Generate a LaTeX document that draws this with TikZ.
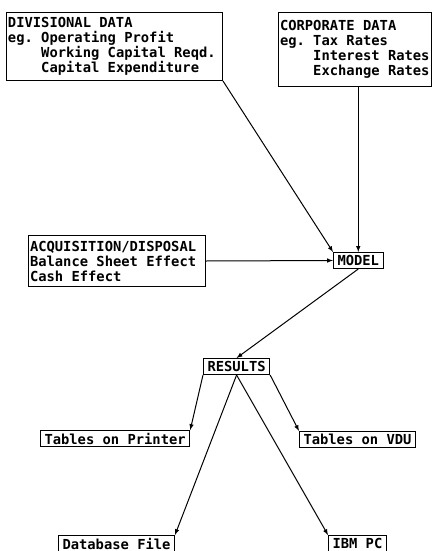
\documentclass[tikz,border=0pt]{standalone}
\usepackage{fontspec}
\setmonofont{DejaVu Sans Mono}
\usepackage{tikz}
\newcommand{\egpad}{\phantom{eg.}\ }

\begin{document}
\begin{tikzpicture}[x=1pt, y=-1pt, >=latex, line width=1pt,
    every node/.style={font=\ttfamily\bfseries\fontsize{13.8}{15}\selectfont},
    databox/.style={draw, anchor=north west, align=left, inner sep=1.5pt,
        execute at begin node={\frenchspacing\spaceskip=0pt\xspaceskip=0pt}},
    outbox/.style={draw, anchor=north west, inner xsep=4pt, inner ysep=1.5pt, minimum height=16pt}]
\useasboundingbox (0,0) rectangle (432,551);
% Eingaben
\node[databox, text width=213pt, minimum height=68pt] (div) at (6,12)
    {DIVISIONAL DATA\\eg. Operating Profit\\\egpad Working Capital Reqd.\\\egpad Capital Expenditure};
\node[databox, text width=150pt, minimum height=74pt] (corp) at (278,12)
    {CORPORATE DATA\\eg. Tax Rates\\\egpad Interest Rates\\\egpad Exchange Rates};
\node[databox, text width=174pt, minimum height=51pt] (acq) at (28,235)
    {ACQUISITION/DISPOSAL\\Balance Sheet Effect\\Cash Effect};
% Modell und Ergebnisse
\node[outbox] (model) at (333,252) {MODEL};
\node[outbox] (res) at (203,358) {RESULTS};
% Ausgaben
\node[outbox] (prn) at (40,430) {Tables on Printer};
\node[outbox] (vdu) at (299,431) {Tables on VDU};
\node[outbox] (dbf) at (58,535) {Database File};
\node[outbox] (ibm) at (328,535) {IBM PC};
% Pfeile
\draw[->] (div.south east) -- (model.north west);
\draw[->] (model.north |- corp.south) -- (model.north);
\draw[->] (acq.east) -- (model.west);
\draw[->] (model.south) -- (res.north);
\draw[->] (res.south west) -- (prn.north east);
\draw[->] (res.south east) -- (vdu.north west);
\draw[->] (res.south) -- (dbf.north east);
\draw[->] (res.south) -- (ibm.north west);
\end{tikzpicture}
\end{document}
